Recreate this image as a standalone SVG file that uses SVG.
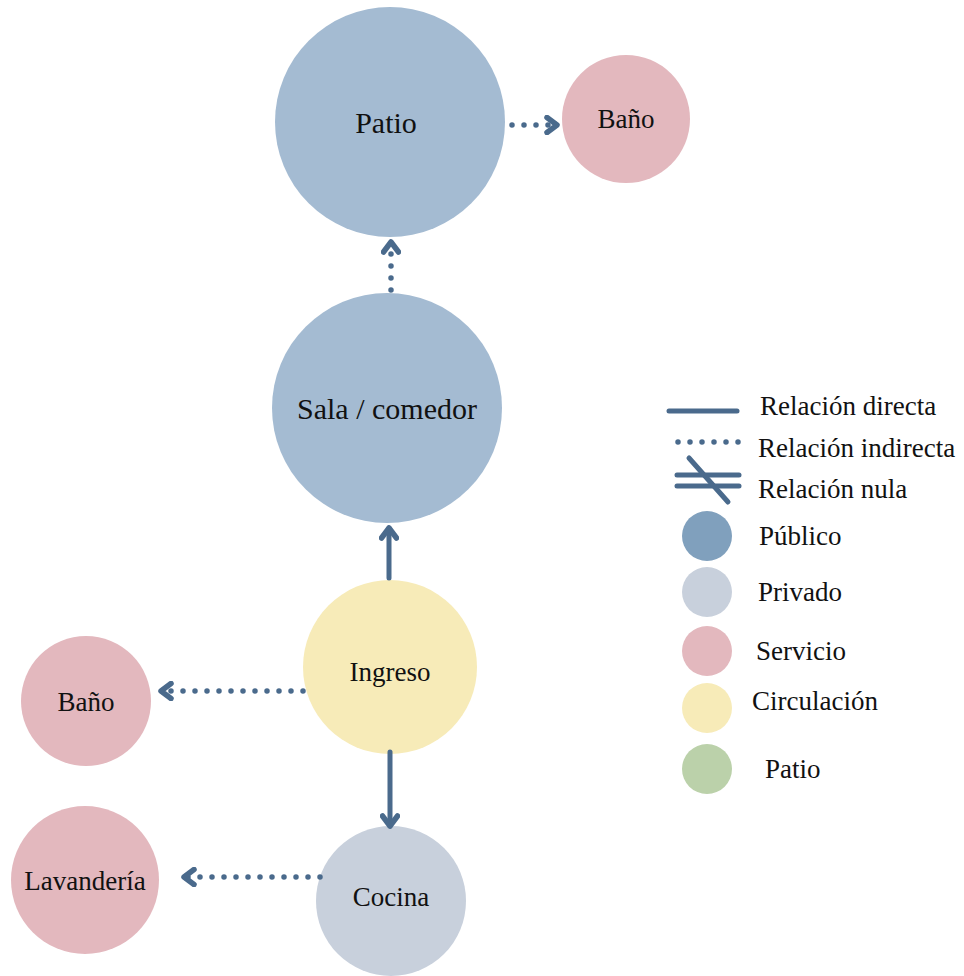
<svg xmlns="http://www.w3.org/2000/svg" width="964" height="976" viewBox="0 0 964 976">
  <style>
    .lbl { font-family: "Liberation Serif", "Times New Roman", serif; fill: #111; }
    .big { font-size: 30px; text-anchor: middle; }
    .mid { font-size: 27px; text-anchor: middle; }
    .leg { font-size: 27px; }
    .edge { stroke: #4a6a8c; stroke-width: 5; fill: none; stroke-linecap: round; }
    .dot { stroke-dasharray: 0 12; stroke-width: 5.5; }
    .pub { fill: #a4bbd2; }
    .srv { fill: #e3b8be; }
    .cir { fill: #f7ebb8; }
    .pri { fill: #c8d0dc; }
  </style>
  <defs>
    <marker id="chev" markerUnits="userSpaceOnUse" viewBox="0 0 16 20" refX="13" refY="10" markerWidth="16" markerHeight="20" orient="auto">
      <path d="M3,2.5 L13,10 L3,17.5" fill="none" stroke="#4a6a8c" stroke-width="5.5" stroke-linecap="round" stroke-linejoin="round"/>
    </marker>
  </defs>
  <rect width="964" height="976" fill="#fff"/>

  <!-- nodes -->
  <g id="patio"><circle class="pub" cx="390" cy="122" r="115"/><text class="lbl big" x="386" y="133">Patio</text></g>
  <g id="bano-patio"><circle class="srv" cx="626" cy="119" r="64"/><text class="lbl mid" x="626" y="128">Baño</text></g>
  <g id="sala"><circle class="pub" cx="387" cy="408" r="115"/><text class="lbl big" x="387" y="419">Sala / comedor</text></g>
  <g id="ingreso"><circle class="cir" cx="390" cy="667" r="87"/><text class="lbl mid" x="390" y="681">Ingreso</text></g>
  <g id="bano-ingreso"><circle class="srv" cx="86" cy="701" r="65"/><text class="lbl mid" x="86" y="711">Baño</text></g>
  <g id="lavanderia"><circle class="srv" cx="85" cy="880" r="74"/><text class="lbl mid" x="85" y="890">Lavandería</text></g>
  <g id="cocina"><circle class="pri" cx="391" cy="901" r="75"/><text class="lbl mid" x="391" y="906">Cocina</text></g>

  <!-- connectors -->
  <g id="connectors">
    <line class="edge dot" x1="512" y1="125" x2="557" y2="125" marker-end="url(#chev)"/>
    <line class="edge dot" x1="391" y1="290" x2="391" y2="242" marker-end="url(#chev)"/>
    <line class="edge" x1="389" y1="578" x2="389" y2="528" marker-end="url(#chev)"/>
    <line class="edge dot" x1="303" y1="691" x2="161" y2="691" marker-end="url(#chev)"/>
    <line class="edge" x1="390" y1="752" x2="390" y2="826" marker-end="url(#chev)"/>
    <line class="edge dot" x1="320" y1="877" x2="184" y2="877" marker-end="url(#chev)"/>
  </g>

  <!-- legend -->
  <g id="legend">
    <line class="edge" x1="669" y1="411" x2="737" y2="411"/>
    <text class="lbl leg" x="760" y="415">Relación directa</text>
    <line class="edge dot" x1="678" y1="442" x2="739" y2="442"/>
    <text class="lbl leg" x="758" y="457">Relación indirecta</text>
    <line class="edge" x1="677" y1="475" x2="739" y2="475"/>
    <line class="edge" x1="677" y1="486" x2="739" y2="486"/>
    <line class="edge" x1="689" y1="458" x2="728" y2="502"/>
    <text class="lbl leg" x="758" y="498">Relación nula</text>
    <circle cx="707" cy="536" r="25" fill="#80a0bd"/>
    <text class="lbl leg" x="759" y="545">Público</text>
    <circle cx="707" cy="592" r="25" fill="#c8d0dc"/>
    <text class="lbl leg" x="758" y="601">Privado</text>
    <circle cx="707" cy="651" r="25" fill="#e3b8be"/>
    <text class="lbl leg" x="756" y="660">Servicio</text>
    <circle cx="707" cy="708" r="25" fill="#f7ebb8"/>
    <text class="lbl leg" x="752" y="710">Circulación</text>
    <circle cx="707" cy="769" r="25" fill="#bbd1aa"/>
    <text class="lbl leg" x="765" y="778">Patio</text>
  </g>
</svg>
